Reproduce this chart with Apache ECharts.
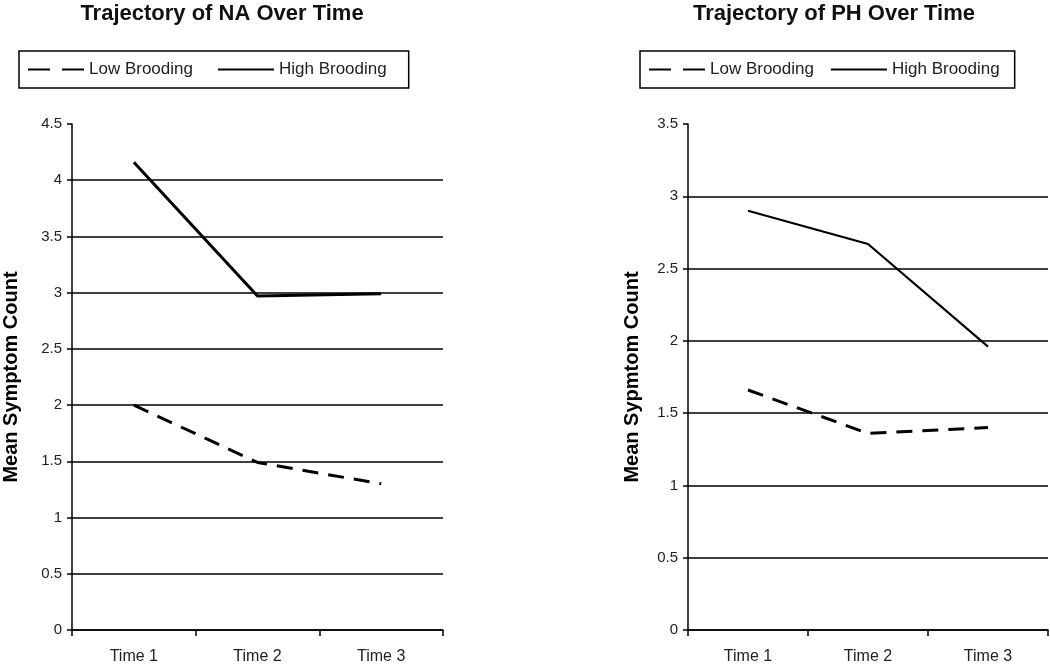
<!DOCTYPE html>
<html>
<head>
<meta charset="utf-8">
<script src="https://cdn.jsdelivr.net/npm/echarts@6/dist/echarts.min.js"></script>
<style>html,body{margin:0;padding:0;background:#fff}#c{width:1050px;height:666px}</style>
</head>
<body>
<div id="c"></div>
<script>
const categories = ['Time 1', 'Time 2', 'Time 3'];
const naLow = [2.0, 1.49, 1.30];
const naHigh = [4.16, 2.97, 2.99];
const phLow = [1.66, 1.36, 1.40];
const phHigh = [2.90, 2.67, 1.96];
const titles = ['Trajectory of NA Over Time', 'Trajectory of PH Over Time'];
const yNames = ['Mean Symptom Count', 'Mean Sypmtom Count'];
const seriesNames = ['Low Brooding', 'High Brooding'];

const FONT = '"Liberation Sans", Arial, sans-serif';
const chart = echarts.init(document.getElementById('c'));

function gridColors(n) {
  const a = [];
  for (let i = 0; i < n; i++) a.push(i === n - 1 ? 'transparent' : '#000');
  return a;
}

function xAxis(gi) {
  return {
    type: 'category', gridIndex: gi, data: categories, boundaryGap: true,
    axisLine: {lineStyle: {color: '#000', width: 1.5}},
    axisTick: {show: true, length: 6, lineStyle: {color: '#000', width: 1.5}},
    axisLabel: {color: '#222', fontFamily: FONT, fontSize: 16, margin: 19},
    splitLine: {show: false}
  };
}
function yAxis(gi, max, name, gap) {
  const n = Math.round(max / 0.5) + 1;
  return {
    type: 'value', gridIndex: gi, min: 0, max: max, interval: 0.5,
    name: name, nameLocation: 'middle', nameRotate: 90, nameGap: gap,
    nameTextStyle: {color: '#000', fontFamily: FONT, fontSize: 20, fontWeight: 'bold'},
    axisLine: {show: true, lineStyle: {color: '#000', width: 1.5}},
    axisTick: {show: true, length: 5, lineStyle: {color: '#000', width: 1.5}},
    axisLabel: {color: '#222', fontFamily: FONT, fontSize: 15, margin: 10},
    splitLine: {show: true, lineStyle: {color: gridColors(n), width: 1.5}}
  };
}
function legend(left, gap, rightPad) {
  return {
    left: left, top: 51,
    orient: 'horizontal',
    data: [
      {name: seriesNames[0], lineStyle: {type: [22, 12]}},
      {name: seriesNames[1]}
    ],
    itemWidth: 56, itemHeight: 14, itemGap: gap,
    itemStyle: {opacity: 0},
    borderColor: '#000', borderWidth: 1.5, padding: [10, rightPad, 10, 8],
    textStyle: {color: '#222', fontFamily: FONT, fontSize: 17},
    selectedMode: false
  };
}
function line(name, data, gi, dashed, w) {
  return {
    type: 'line', name: name, xAxisIndex: gi, yAxisIndex: gi, data: data,
    symbol: 'none', silent: true,
    lineStyle: {color: '#000', width: w, type: dashed ? [16, 10] : 'solid'},
    itemStyle: {color: '#000'}
  };
}

chart.setOption({
  animation: false,
  backgroundColor: '#fff',
  title: [
    {text: titles[0], left: 217, top: -2, textAlign: 'center',
     textStyle: {fontFamily: FONT, fontSize: 22, fontWeight: 'bold', color: '#111'}},
    {text: titles[1], left: 829, top: -2, textAlign: 'center',
     textStyle: {fontFamily: FONT, fontSize: 22, fontWeight: 'bold', color: '#111'}}
  ],
  legend: [legend(19, 24, 22), legend(640, 16, 15)],
  grid: [
    {left: 72, top: 124, width: 371, height: 506},
    {left: 688, top: 124, width: 360, height: 506}
  ],
  xAxis: [xAxis(0), xAxis(1)],
  yAxis: [yAxis(0, 4.5, yNames[0], 51), yAxis(1, 3.5, yNames[1], 46)],
  series: [
    line(seriesNames[0], naLow, 0, true, 3),
    line(seriesNames[1], naHigh, 0, false, 3),
    line(seriesNames[0], phLow, 1, true, 3),
    line(seriesNames[1], phHigh, 1, false, 2.2)
  ]
});
</script>
</body>
</html>
